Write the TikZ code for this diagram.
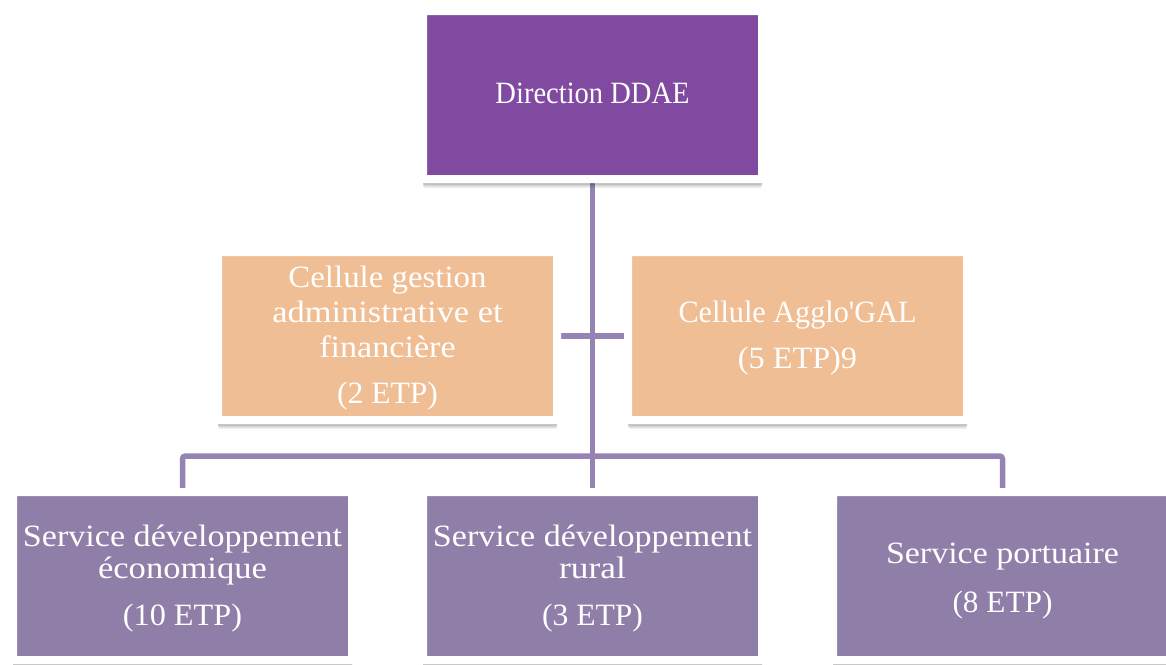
\documentclass[tikz,border=0pt]{standalone}
\usepackage{fontspec}
\setmainfont{Liberation Serif}
\usetikzlibrary{shadows}
\definecolor{topP}{HTML}{7F4A9F}
\definecolor{orangeB}{HTML}{F0BE94}
\definecolor{botP}{HTML}{8F7EA8}
\definecolor{lineP}{HTML}{9583B3}
\pgfdeclarelayer{background}
\pgfsetlayers{background,main}
\newcommand\sx[2]{\scalebox{#1}[1]{#2}}
\tikzset{
  box/.style={rectangle, minimum width=339pt, minimum height=168pt, draw=white,
    line width=8pt, rounded corners=1.5pt,
    general shadow={shadow xshift=0pt, shadow yshift=-9pt, opacity=0.06, fill=black},
    general shadow={shadow xshift=0pt, shadow yshift=-7.5pt, opacity=0.09, fill=black},
    general shadow={shadow xshift=0pt, shadow yshift=-6pt, opacity=0.12, fill=black},
    general shadow={xscale=1.03, yscale=1.058, shadow yshift=-0.5pt, opacity=0.10, fill=black}},
  topbox/.style={box, fill=topP},
  orbox/.style={box, fill=orangeB},
  svbox/.style={box, fill=botP},
  lbl/.style={anchor=base, inner sep=0pt, text=white, font=\fontsize{31}{33}\selectfont},
  conn/.style={draw=lineP, line width=5.5pt}
}
\begin{document}
\begin{tikzpicture}[x=1pt,y=-1pt]
\useasboundingbox (0,0) rectangle (1166,664);
% boxes
\node[topbox] (dir) at (592.5,95) {};
\node[orbox] (cga) at (387.5,336) {};
\node[orbox] (cag) at (797.5,336) {};
\node[svbox] (sde) at (182.5,576) {};
\node[svbox] (sdr) at (592.5,576) {};
\node[svbox] (spo) at (1002.5,576) {};
% connectors
\coordinate (bus) at (592.5,456);
\begin{pgfonlayer}{background}
\fill[white] (0,0) rectangle (1166,664);
\draw[conn] (dir.south) -- (sdr.north);
\draw[conn] (cga.east) -- (cag.west);
\draw[conn, rounded corners=3pt] (sde.north) -- (sde.north |- bus) -- (spo.north |- bus) -- (spo.north);
\end{pgfonlayer}
% labels
\node[lbl] (t1) at (592.5,103) {\sx{0.92}{Direction DDAE}};
\node[lbl] (t2) at (387.5,287) {\sx{1.06}{Cellule gestion}};
\node[lbl] (t3) at (387.5,322) {\sx{1.11}{administrative et}};
\node[lbl] (t4) at (387.5,357) {\sx{1.10}{financière}};
\node[lbl] (t5) at (387.5,403) {\sx{1.02}{(2 ETP)}};
\node[lbl] (t6) at (797.5,322) {\sx{0.975}{Cellule Agglo\textquotesingle GAL}};
\node[lbl] (t7) at (797.5,368) {\sx{1.04}{(5 ETP)9}};
\node[lbl] (t8) at (182.5,546) {\sx{1.10}{Service développement}};
\node[lbl] (t9) at (182.5,578) {\sx{1.115}{économique}};
\node[lbl] (t10) at (182.5,625) {\sx{1.04}{(10 ETP)}};
\node[lbl] (t11) at (592.5,546) {\sx{1.10}{Service développement}};
\node[lbl] (t12) at (592.5,578) {\sx{1.14}{rural}};
\node[lbl] (t13) at (592.5,625) {\sx{1.02}{(3 ETP)}};
\node[lbl] (t14) at (1002.5,563) {\sx{1.096}{Service portuaire}};
\node[lbl] (t15) at (1002.5,612) {\sx{1.01}{(8 ETP)}};
\end{tikzpicture}
\end{document}
